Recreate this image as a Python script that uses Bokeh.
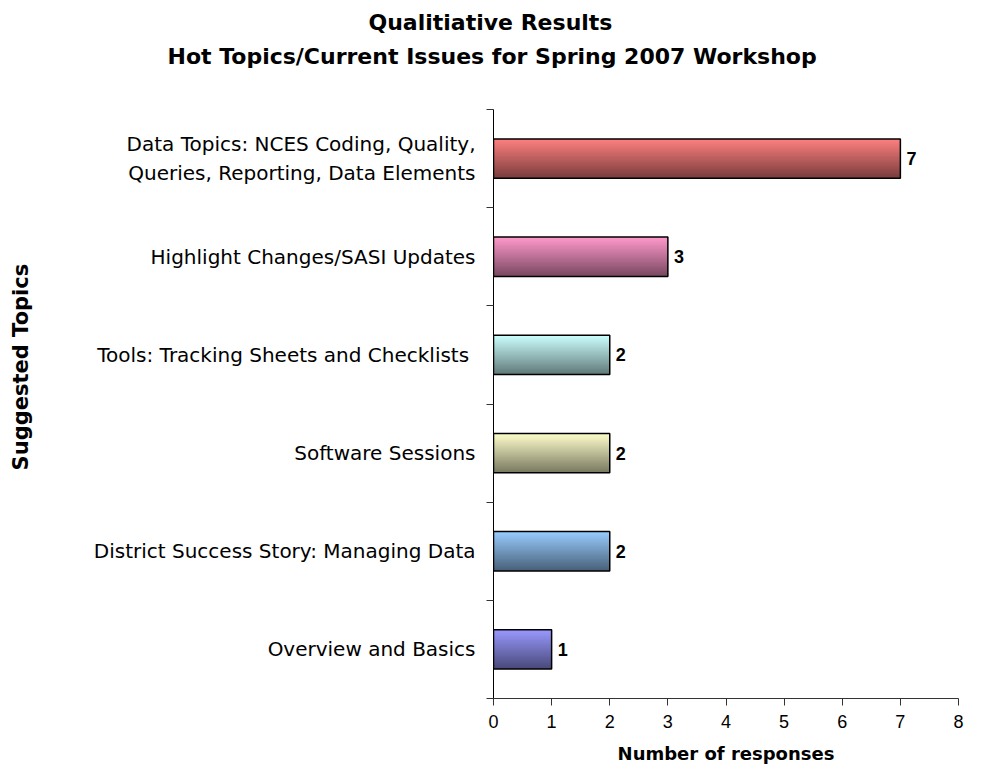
import math
from bokeh.plotting import figure
from bokeh.layouts import row
from bokeh.models import FixedTicker, Title, ColumnDataSource, Range1d
from bokeh.core.properties import value
from bokeh.embed import file_html
from bokeh.resources import INLINE

# ---- data (bottom to top) ----
categories = [
    "Overview and Basics",
    "District Success Story: Managing Data",
    "Software Sessions",
    "Tools: Tracking Sheets and Checklists ",
    "Highlight Changes/SASI Updates",
    "Data Topics: NCES Coding, Quality,\nQueries, Reporting, Data Elements",
]
responses = [1, 2, 2, 2, 3, 7]
top_colors = [(153, 153, 255), (153, 204, 255), (255, 255, 204),
              (204, 255, 255), (255, 153, 204), (255, 128, 128)]
x_ticks = [0, 1, 2, 3, 4, 5, 6, 7, 8]
title_lines = ["Qualitiative Results", "Hot Topics/Current Issues for Spring 2007 Workshop"]
x_label = "Number of responses"
y_label = "Suggested Topics"

FONT = "DejaVu Sans"
NUM_FONT = "Liberation Sans"

TOTAL_W, H = 966, 766
LABEL_W = 40

# ---- narrow strip holding the rotated y-axis title ----
lab = figure(width=LABEL_W, height=H, output_backend="svg", toolbar_location=None,
             x_range=Range1d(0, LABEL_W), y_range=Range1d(H, 0),
             min_border=0, title=None)
lab.axis.visible = False
lab.grid.visible = False
lab.outline_line_color = None
lab.text(x=[20], y=[335], text=[y_label], angle=math.pi / 2,
         text_align="center", text_baseline="middle",
         text_font=value(FONT), text_font_size="21px", text_font_style="bold",
         text_color="black")

# ---- main chart ----
p = figure(width=TOTAL_W - LABEL_W, height=H, output_backend="svg", toolbar_location=None,
           x_range=(0, 8), y_range=(0, len(categories)), title=None,
           min_border_left=493 - LABEL_W, min_border_right=8, min_border_top=0,
           min_border_bottom=0)

# titles (first added sits nearest the frame)
p.add_layout(Title(text=" ", text_font_size="10px", standoff=28), "above")
p.add_layout(Title(text=title_lines[1], align="left", offset=-326,
                   text_font=FONT, text_font_size="22px", text_font_style="bold",
                   text_color="black", standoff=0), "above")
p.add_layout(Title(text=title_lines[0], align="left", offset=-125,
                   text_font=FONT, text_font_size="22px", text_font_style="bold",
                   text_color="black", standoff=14), "above")

# gradient bars: stacked, overlapping layers (dark full bar, lighter upper parts)
bar_h = 0.4
n_strips = 30
bots, tops, rights, cols = [], [], [], []
for i, (v, c) in enumerate(zip(responses, top_colors)):
    center = i + 0.5
    b0 = center - bar_h / 2
    for k in range(n_strips):
        t = (k + 0.5) / n_strips          # 0 bottom -> 1 top
        f = 0.47 + 0.53 * t
        col = "#%02x%02x%02x" % tuple(int(round(ch * f)) for ch in c)
        bots.append(b0 + k * bar_h / n_strips)
        tops.append(center + bar_h / 2)
        rights.append(v)
        cols.append(col)
p.quad(bottom=bots, top=tops, left=0, right=rights, fill_color=cols, line_color=None)

centers = [i + 0.5 for i in range(len(categories))]
src = ColumnDataSource(dict(y=centers, right=responses, lab=[str(v) for v in responses]))
p.hbar(y="y", left=0, right="right", height=bar_h, source=src,
       fill_alpha=0, line_color="black", line_width=1.5)
p.text(x="right", y="y", text="lab", source=src, x_offset=6,
       text_baseline="middle", text_align="left",
       text_font=value(NUM_FONT), text_font_size="18px", text_font_style="bold",
       text_color="black")

# x axis
xa = p.xaxis[0]
xa.ticker = FixedTicker(ticks=x_ticks, minor_ticks=[])
xa.major_tick_out = 7
xa.major_tick_in = 0
xa.major_label_standoff = 9
xa.major_label_text_font = NUM_FONT
xa.major_label_text_font_size = "18px"
xa.major_label_text_color = "black"
xa.axis_line_color = "#333333"
xa.major_tick_line_color = "#333333"
xa.axis_label = x_label
xa.axis_label_text_font = FONT
xa.axis_label_text_font_size = "18px"
xa.axis_label_text_font_style = "bold"
xa.axis_label_text_color = "black"
xa.axis_label_standoff = 12

# y axis
ya = p.yaxis[0]
ya.ticker = FixedTicker(ticks=centers, minor_ticks=list(range(len(categories) + 1)))
ya.major_label_overrides = {c: lab_ for c, lab_ in zip(centers, categories)}
ya.major_tick_out = 0
ya.major_tick_in = 0
ya.minor_tick_out = 7
ya.minor_tick_in = 0
ya.minor_tick_line_color = "#333333"
ya.axis_line_color = "black"
ya.major_label_standoff = 11
ya.major_label_text_font = FONT
ya.major_label_text_font_size = "20px"
ya.major_label_text_color = "black"

p.xgrid.visible = False
p.ygrid.visible = False
p.outline_line_color = None

layout = row(lab, p, spacing=0)
open("out.html", "w").write(file_html(layout, INLINE))
